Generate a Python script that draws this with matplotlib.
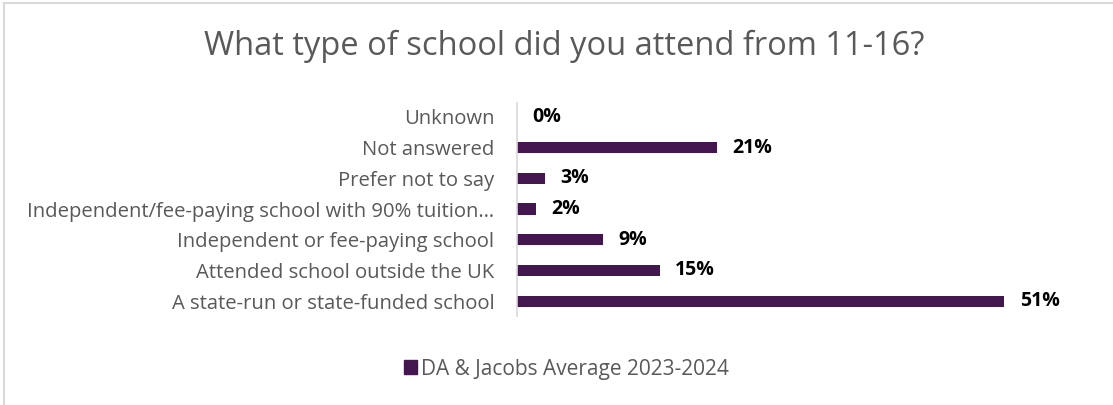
import matplotlib
matplotlib.use("Agg")
import matplotlib.pyplot as plt
from matplotlib.lines import Line2D
from matplotlib.patches import Patch

categories = [
    "A state-run or state-funded school",
    "Attended school outside the UK",
    "Independent or fee-paying school",
    "Independent/fee-paying school with 90% tuition\u2026",
    "Prefer not to say",
    "Not answered",
    "Unknown",
]
values = [51, 15, 9, 2, 3, 21, 0]
series_name = "DA & Jacobs Average 2023-2024"
title = "What type of school did you attend from 11-16?"

BAR = "#431650"
GREY = "#595959"
FONT = ["Open Sans", "DejaVu Sans"]

W, H = 1113, 405
fig = plt.figure(figsize=(W / 100, H / 100), dpi=100)
fig.patch.set_facecolor("white")

# chart frame (top and left edges)
fig.add_artist(Line2D([4 / W, 4 / W], [0, 1 - 3 / H], color="#d9d9d9", lw=1.5))
fig.add_artist(Line2D([4 / W, 1], [1 - 3 / H, 1 - 3 / H], color="#d9d9d9", lw=1.5))

ax_left, ax_right, ax_top, ax_bottom = 516.5, 1080, 101.5, 316.5
ax = fig.add_axes([ax_left / W, 1 - ax_bottom / H,
                   (ax_right - ax_left) / W, (ax_bottom - ax_top) / H])
y = range(len(categories))
bars = ax.barh(y, values, height=0.36, color=BAR)
ax.set_xlim(0, 58.9)
ax.set_ylim(-0.5, len(categories) - 0.5)

for spine in ("top", "right", "bottom"):
    ax.spines[spine].set_visible(False)
ax.spines["left"].set_color("#d9d9d9")
ax.spines["left"].set_linewidth(1.2)
ax.spines["left"].set_bounds(-0.5, len(categories) - 0.55)
ax.set_xticks([])
ax.set_yticks(list(y))
ax.set_yticklabels(categories, fontsize=14.6, color=GREY, family=FONT)
ax.tick_params(axis="y", length=0, pad=16)

for rect, v in zip(bars, values):
    ax.annotate(f"{v}%", (rect.get_width(), rect.get_y() + rect.get_height() / 2),
                xytext=(11, 0), textcoords="offset points", va="center", ha="left",
                fontsize=14, fontweight="bold", color="black", family=FONT)

fig.text(564 / W, 1 - 55 / H, title, ha="center", va="baseline",
         fontsize=23.5, color=GREY, family=FONT)

fig.legend(handles=[Patch(facecolor=BAR, edgecolor=BAR, label=series_name)],
           loc="center", bbox_to_anchor=(566.5 / W, 1 - 369 / H), frameon=False,
           handlelength=0.62, handleheight=0.62, handletextpad=0.2,
           prop={"family": FONT, "size": 15}, labelcolor=GREY)

fig.savefig("out.png", dpi=100, facecolor="white")
